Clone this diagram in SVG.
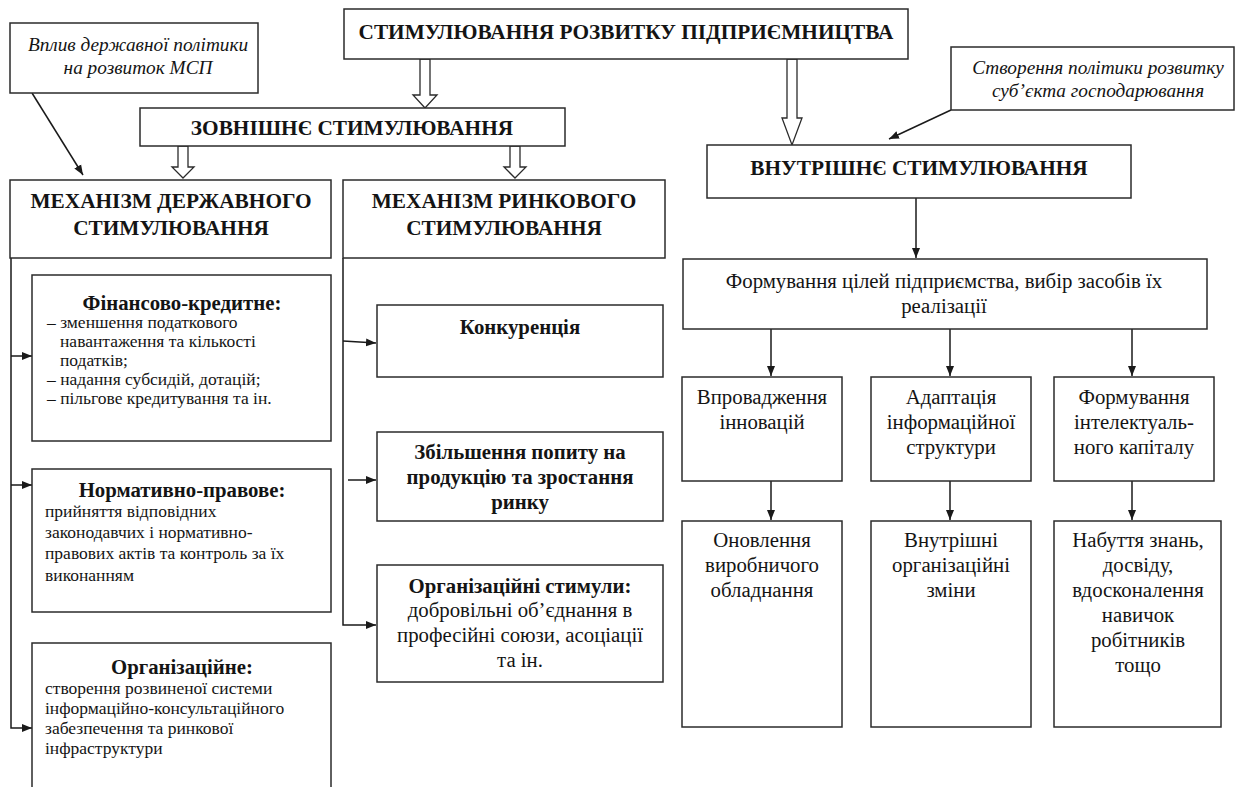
<svg xmlns="http://www.w3.org/2000/svg" width="1247" height="787" viewBox="0 0 1247 787">
<defs>
<marker id="ah" markerUnits="userSpaceOnUse" markerWidth="10" markerHeight="10" viewBox="0 0 10 10" refX="10" refY="5" orient="auto">
<path d="M0,1 L10,5 L0,9 Z" fill="#1a1a1a"/>
</marker>
<style>
.box{fill:#fff;stroke:#2b2b2b;stroke-width:1.5}
.hol{fill:#fff;stroke:#2b2b2b;stroke-width:1.3}
.ln{fill:none;stroke:#1a1a1a;stroke-width:1.5}
.ar{fill:none;stroke:#1a1a1a;stroke-width:1.5;marker-end:url(#ah)}
text{font-family:"Liberation Serif","Times New Roman",serif;fill:#141414}
.h{font-weight:bold;font-size:21.3px;text-anchor:middle}
.it{font-style:italic;font-size:19.3px;text-anchor:middle}
.r{font-size:20.8px;text-anchor:middle}
.m{font-size:20.8px;text-anchor:middle}
.s{font-size:17.5px}
.sb{font-weight:bold;font-size:20.8px;text-anchor:middle}
</style>
</defs>
<rect width="1247" height="787" fill="#fff"/>

<g id="connectors">
<polygon class="hol" points="420,59 430,59 430,95 437,95 425,108 413,95 420,95"/>
<polygon class="hol" points="787,59 797,59 797,118 802,118 792,145 782,118 787,118"/>
<polygon class="hol" points="178,146 188,146 188,167 194,167 183,178 172,167 178,167"/>
<polygon class="hol" points="510,146 520,146 520,167 526,167 515,178 504,167 510,167"/>
<line class="ar" x1="32" y1="93" x2="83" y2="175"/>
<line class="ar" x1="951" y1="110" x2="889" y2="139"/>
<line class="ar" x1="916" y1="198" x2="916" y2="258"/>
<line class="ar" x1="771" y1="329" x2="771" y2="376"/>
<line class="ar" x1="950" y1="329" x2="950" y2="376"/>
<line class="ar" x1="1132" y1="329" x2="1132" y2="376"/>
<line class="ar" x1="771" y1="481" x2="771" y2="520"/>
<line class="ar" x1="950" y1="481" x2="950" y2="520"/>
<line class="ar" x1="1132" y1="481" x2="1132" y2="520"/>
<polyline class="ar" points="11,258 11,728 32,728"/>
<line class="ar" x1="11" y1="356" x2="32" y2="356"/>
<line class="ar" x1="11" y1="485" x2="32" y2="485"/>
<polyline class="ar" points="343,258 343,625 376,625"/>
<line class="ar" x1="343" y1="341" x2="376" y2="343"/>
<line class="ar" x1="348" y1="480" x2="376" y2="480"/>
</g>

<g id="title">
<rect class="box" x="344" y="9" width="564" height="50"/>
<text class="h" x="626" y="39">СТИМУЛЮВАННЯ РОЗВИТКУ ПІДПРИЄМНИЦТВА</text>
</g>

<g id="vplyv">
<rect class="box" x="10" y="23" width="248" height="70"/>
<text class="it" x="138" y="51">Вплив державної політики</text>
<text class="it" x="138" y="74">на розвиток МСП</text>
</g>

<g id="stvorennia">
<rect class="box" x="951" y="47" width="283" height="63"/>
<text class="it" x="1098" y="74">Створення політики розвитку</text>
<text class="it" x="1098" y="97">суб’єкта господарювання</text>
</g>

<g id="zovnishnie">
<rect class="box" x="140" y="108" width="425" height="38"/>
<text class="h" x="352" y="135">ЗОВНІШНЄ СТИМУЛЮВАННЯ</text>
</g>

<g id="vnutrishnie">
<rect class="box" x="707" y="145" width="424" height="53"/>
<text class="h" x="919" y="175">ВНУТРІШНЄ СТИМУЛЮВАННЯ</text>
</g>

<g id="mech-derzh">
<rect class="box" x="10" y="180" width="321" height="78"/>
<text class="h" x="171" y="208">МЕХАНІЗМ ДЕРЖАВНОГО</text>
<text class="h" x="171" y="235">СТИМУЛЮВАННЯ</text>
</g>

<g id="mech-rynk">
<rect class="box" x="343" y="180" width="322" height="78"/>
<text class="h" x="504" y="208">МЕХАНІЗМ РИНКОВОГО</text>
<text class="h" x="504" y="235">СТИМУЛЮВАННЯ</text>
</g>

<g id="fin">
<rect class="box" x="32" y="275" width="299" height="166"/>
<text class="sb" x="182" y="310">Фінансово-кредитне:</text>
<text class="s" x="47" y="328">– зменшення податкового</text>
<text class="s" x="60" y="347">навантаження та кількості</text>
<text class="s" x="60" y="366">податків;</text>
<text class="s" x="47" y="385">– надання субсидій, дотацій;</text>
<text class="s" x="47" y="404">– пільгове кредитування та ін.</text>
</g>

<g id="norm">
<rect class="box" x="32" y="469" width="299" height="143"/>
<text class="sb" x="182" y="497">Нормативно-правове:</text>
<text class="s" x="45" y="517">прийняття відповідних</text>
<text class="s" x="45" y="538">законодавчих і нормативно-</text>
<text class="s" x="45" y="559">правових актів та контроль за їх</text>
<text class="s" x="45" y="581">виконанням</text>
</g>

<g id="org">
<rect class="box" x="32" y="643" width="299" height="170"/>
<text class="sb" x="182" y="674">Організаційне:</text>
<text class="s" x="45" y="694">створення розвиненої системи</text>
<text class="s" x="45" y="714">інформаційно-консультаційного</text>
<text class="s" x="45" y="734">забезпечення та ринкової</text>
<text class="s" x="45" y="754">інфраструктури</text>
</g>

<g id="konkurentsiia">
<rect class="box" x="377" y="305" width="286" height="72"/>
<text class="sb" x="520" y="334">Конкуренція</text>
</g>

<g id="popyt">
<rect class="box" x="377" y="432" width="286" height="89"/>
<text class="sb" x="520" y="459">Збільшення попиту на</text>
<text class="sb" x="520" y="484">продукцію та зростання</text>
<text class="sb" x="520" y="509">ринку</text>
</g>

<g id="org-stymuly">
<rect class="box" x="377" y="565" width="286" height="117"/>
<text class="sb" x="520" y="593">Організаційні стимули:</text>
<text class="m" x="520" y="617">добровільні об’єднання в</text>
<text class="m" x="520" y="642">професійні союзи, асоціації</text>
<text class="m" x="520" y="667">та ін.</text>
</g>

<g id="formuvannia-tsilei">
<rect class="box" x="683" y="259" width="524" height="70"/>
<text class="r" x="944" y="288">Формування цілей підприємства, вибір засобів їх</text>
<text class="r" x="944" y="313">реалізації</text>
</g>

<g id="innovatsii">
<rect class="box" x="682" y="377" width="160" height="104"/>
<text class="r" x="762" y="404">Впровадження</text>
<text class="r" x="762" y="429">інновацій</text>
</g>

<g id="adaptatsiia">
<rect class="box" x="871" y="377" width="160" height="104"/>
<text class="r" x="951" y="404">Адаптація</text>
<text class="r" x="951" y="429">інформаційної</text>
<text class="r" x="951" y="454">структури</text>
</g>

<g id="kapital">
<rect class="box" x="1054" y="377" width="160" height="104"/>
<text class="r" x="1134" y="404">Формування</text>
<text class="r" x="1134" y="429">інтелектуаль-</text>
<text class="r" x="1134" y="454">ного капіталу</text>
</g>

<g id="onovlennia">
<rect class="box" x="682" y="521" width="160" height="206"/>
<text class="r" x="762" y="547">Оновлення</text>
<text class="r" x="762" y="572">виробничого</text>
<text class="r" x="762" y="597">обладнання</text>
</g>

<g id="zminy">
<rect class="box" x="871" y="521" width="160" height="206"/>
<text class="r" x="951" y="547">Внутрішні</text>
<text class="r" x="951" y="572">організаційні</text>
<text class="r" x="951" y="597">зміни</text>
</g>

<g id="znannia">
<rect class="box" x="1054" y="521" width="167" height="206"/>
<text class="r" x="1138" y="547">Набуття знань,</text>
<text class="r" x="1138" y="572">досвіду,</text>
<text class="r" x="1138" y="597">вдосконалення</text>
<text class="r" x="1138" y="622">навичок</text>
<text class="r" x="1138" y="647">робітників</text>
<text class="r" x="1138" y="672">тощо</text>
</g>
</svg>
